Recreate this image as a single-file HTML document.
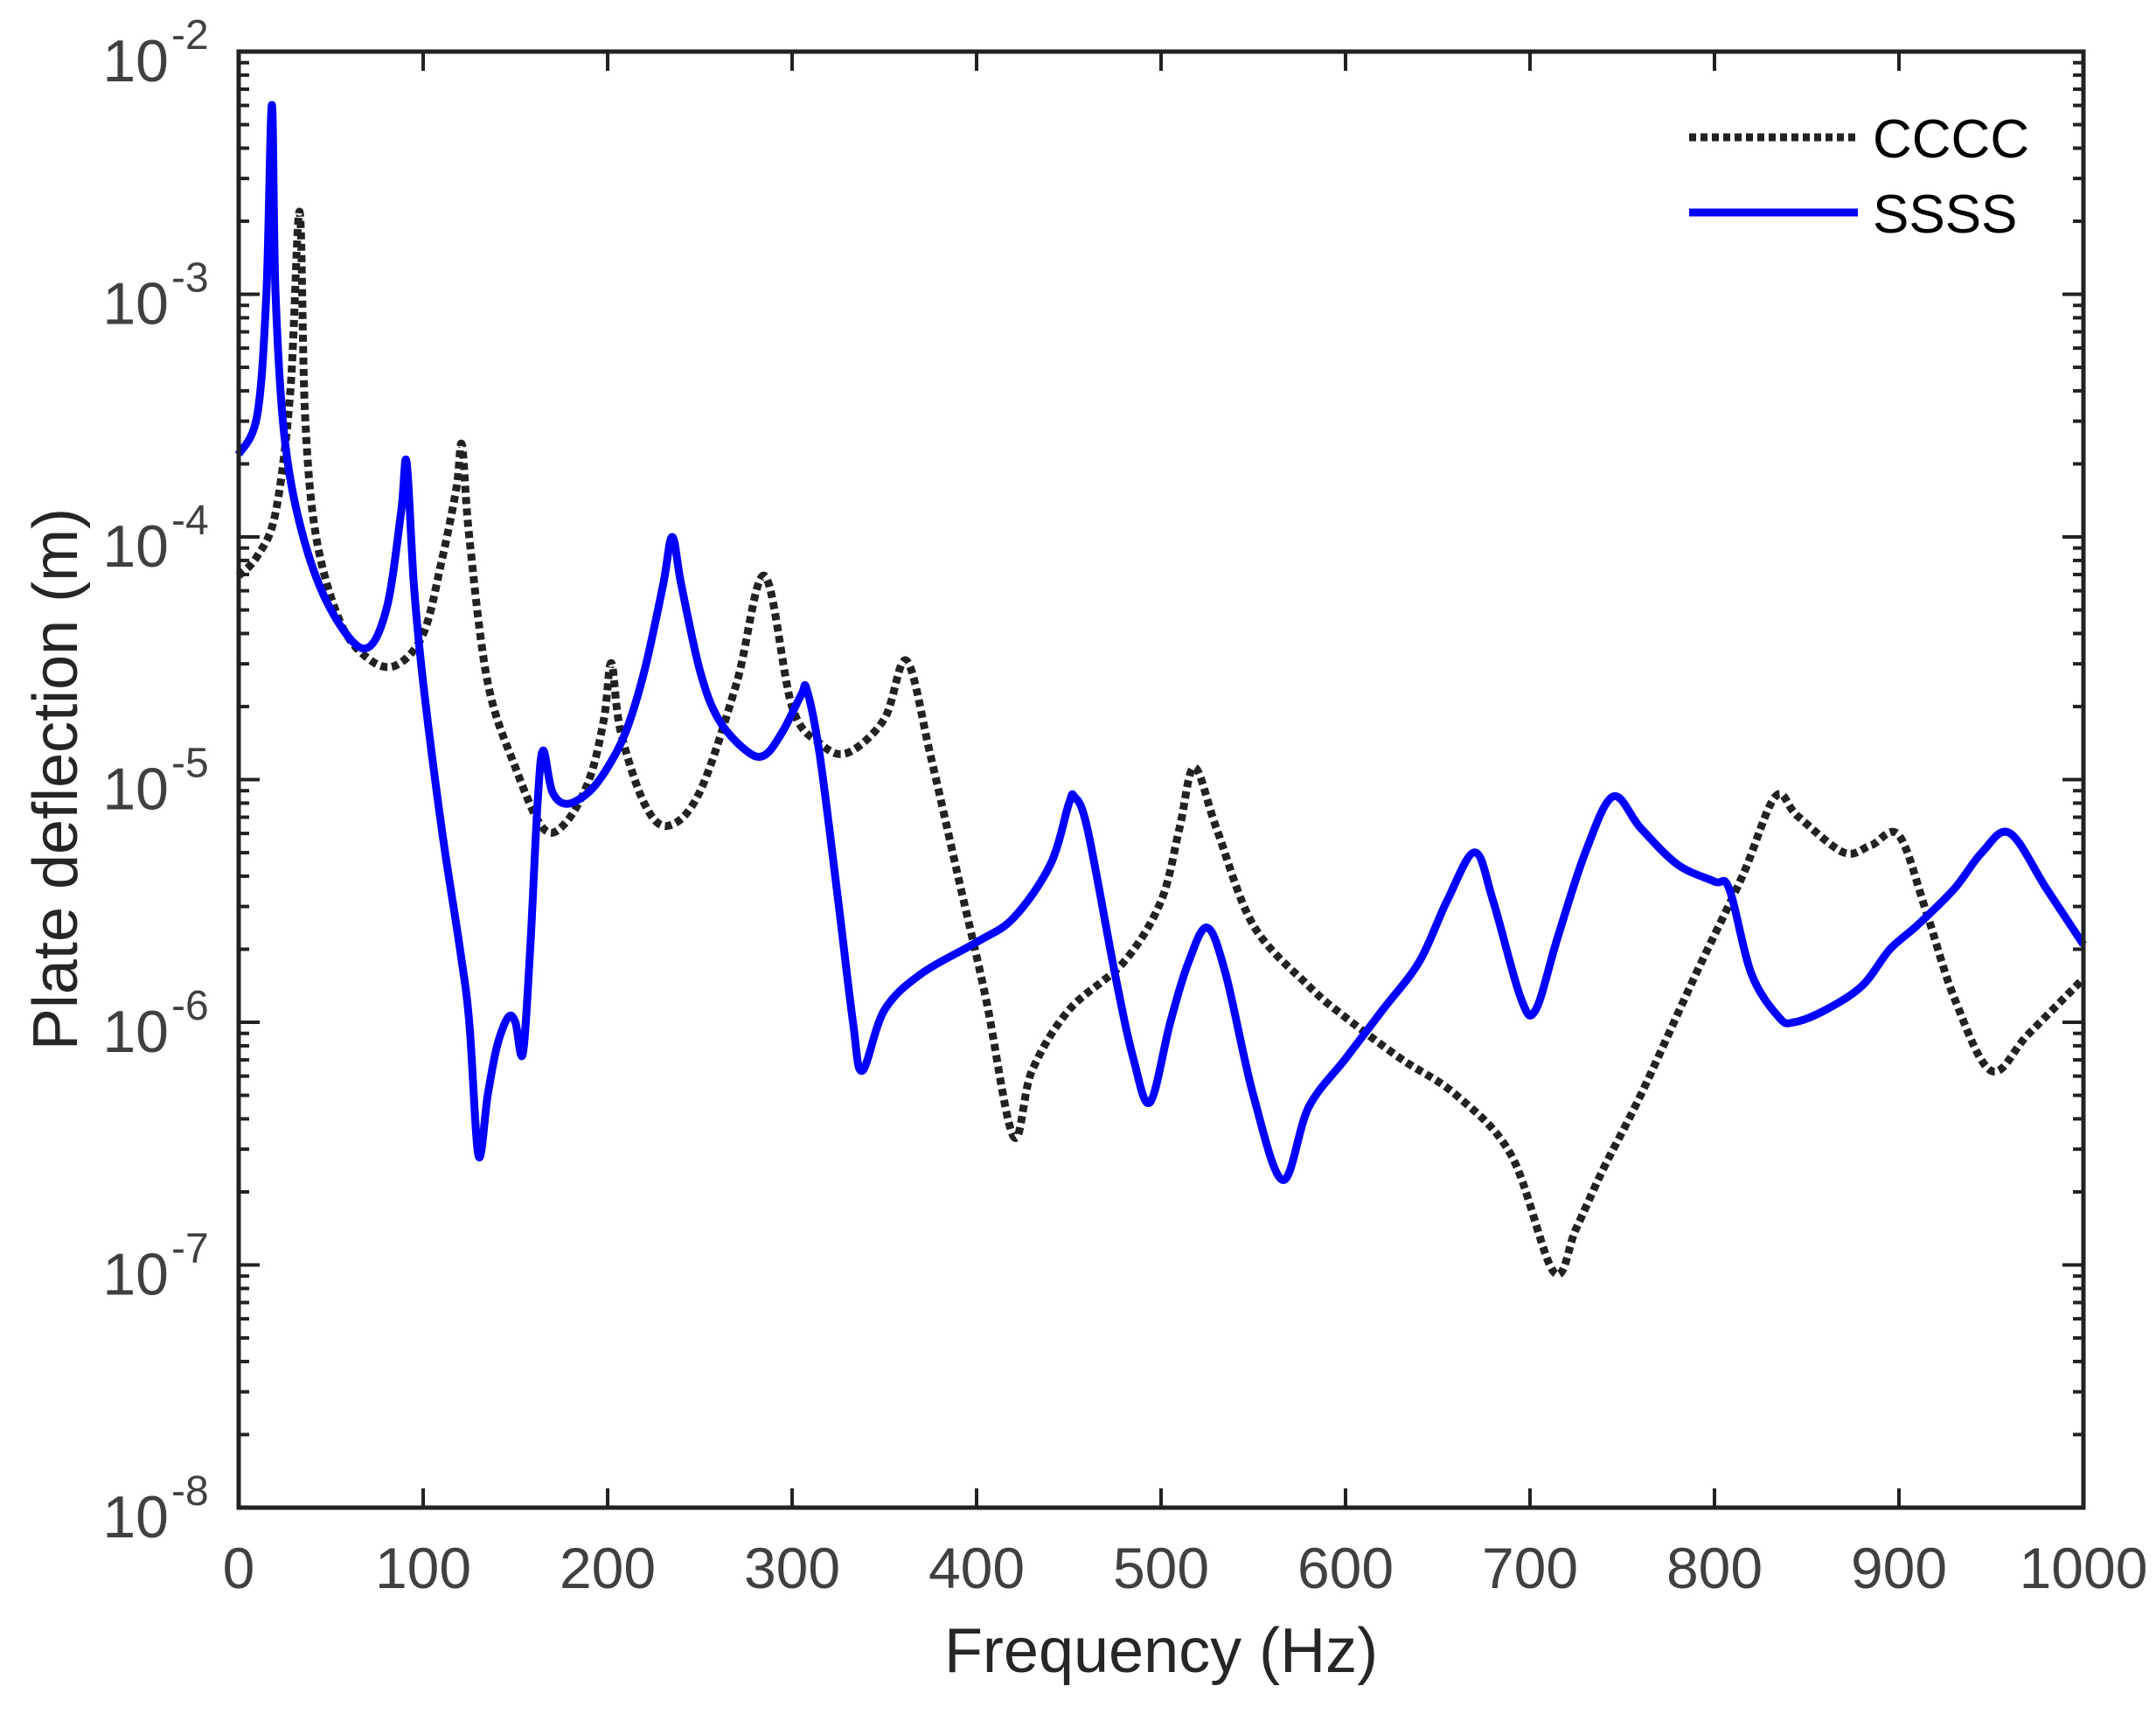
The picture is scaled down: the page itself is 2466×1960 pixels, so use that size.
<!DOCTYPE html>
<html><head><meta charset="utf-8"><style>
html,body{margin:0;padding:0;background:#fff;}
svg{display:block;font-family:"Liberation Sans",Arial,sans-serif;}
</style></head><body>
<svg id="chart" width="2466" height="1960" viewBox="0 0 2466 1960" xmlns="http://www.w3.org/2000/svg">
<g id="grid-layer"></g>
<g id="series-layer"></g>
<rect x="273" y="59" width="2110" height="1665" fill="none" stroke="#222" stroke-width="5"/>
<g id="label-layer"></g>
<text x="1328" y="1912" font-size="72" fill="#262626" text-anchor="middle">Frequency (Hz)</text>
<text transform="translate(88,891) rotate(-90)" font-size="72" fill="#262626" text-anchor="middle">Plate deflection (m)</text>
<g>
<line x1="1932" y1="157" x2="2125" y2="157" stroke="#222" stroke-width="9" stroke-dasharray="8 5"/>
<text x="2142" y="180" font-size="62" fill="#000">CCCC</text>
<line x1="1932" y1="243" x2="2125" y2="243" stroke="#0000ff" stroke-width="9"/>
<text x="2142" y="266" font-size="62" fill="#000">SSSS</text>
</g>
</svg>
<script>
const xTicks=[0,100,200,300,400,500,600,700,800,900,1000];
const yExps=[-2,-3,-4,-5,-6,-7,-8];
const ssssFreq=[0,10,15,18,20,25,35,50,68,80,88,91,95,100,110,120,125,130,135,140,146,150,154,158,162,165,170,178,190,200,210,220,230,235,240,250,260,275,285,295,305,308,315,325,333,338,350,370,400,420,440,450,453,460,475,485,494,505,515,525,535,550,566,580,600,620,640,655,670,680,695,703,715,730,745,760,780,800,808,820,835,843,860,880,895,910,930,945,960,980,1000];
const ssssLog=[-3.66,-3.5,-3.0,-2.22,-3.0,-3.6,-4.0,-4.3,-4.46,-4.3,-3.9,-3.69,-4.2,-4.6,-5.2,-5.7,-6.0,-6.55,-6.3,-6.1,-5.98,-6.0,-6.13,-5.7,-5.1,-4.88,-5.05,-5.1,-5.05,-4.95,-4.8,-4.55,-4.2,-4.0,-4.2,-4.55,-4.75,-4.88,-4.9,-4.8,-4.65,-4.63,-4.9,-5.5,-6.0,-6.2,-5.95,-5.8,-5.67,-5.57,-5.35,-5.1,-5.07,-5.2,-5.8,-6.15,-6.33,-6.0,-5.75,-5.61,-5.8,-6.3,-6.65,-6.35,-6.15,-5.95,-5.75,-5.5,-5.3,-5.5,-5.9,-5.95,-5.65,-5.3,-5.07,-5.2,-5.35,-5.42,-5.45,-5.8,-5.98,-6.0,-5.95,-5.85,-5.7,-5.6,-5.45,-5.3,-5.22,-5.45,-5.68];
const ccccFreq=[0,10,20,28,33,36,42,55,70,85,100,110,118,121,125,135,150,165,177,190,198,202,207,220,233,250,270,285,300,315,330,350,362,375,390,405,420,430,450,480,500,510,518,530,550,580,600,630,660,690,713,725,740,760,790,815,833,845,870,885,900,915,930,950,970,1000];
const ccccLog=[-4.16,-4.08,-3.9,-3.4,-2.66,-3.5,-4.0,-4.35,-4.5,-4.53,-4.4,-4.1,-3.8,-3.62,-4.0,-4.6,-4.95,-5.2,-5.18,-5.0,-4.75,-4.52,-4.8,-5.1,-5.19,-5.05,-4.6,-4.16,-4.7,-4.85,-4.89,-4.75,-4.51,-4.9,-5.4,-5.9,-6.47,-6.2,-5.95,-5.75,-5.5,-5.2,-4.95,-5.2,-5.6,-5.85,-5.98,-6.15,-6.3,-6.55,-7.03,-6.85,-6.6,-6.3,-5.8,-5.4,-5.07,-5.15,-5.3,-5.27,-5.23,-5.55,-5.9,-6.2,-6.05,-5.82];

const L=273,R=2383,T=59,B=1724;
const xs=f=>L+(f-0)/(1000-0)*(R-L);
const ys=lg=>T+(-2-lg)/6*(B-T);
const NS='http://www.w3.org/2000/svg';
function mk(tag,attrs,parent){const e=document.createElementNS(NS,tag);for(const k in attrs)e.setAttribute(k,attrs[k]);parent.appendChild(e);return e;}
const g=document.getElementById('grid-layer'),sl=document.getElementById('series-layer'),ll=document.getElementById('label-layer');
xTicks.forEach(v=>{const x=xs(v);
 let t=mk('line',{x1:x,y1:B,x2:x,y2:B-22,stroke:'#222','stroke-width':4},g);
 
 
 t=mk('line',{x1:x,y1:T,x2:x,y2:T+22,stroke:'#222','stroke-width':4},g);
 
 
 const tx=mk('text',{x:x,y:1816,'font-size':66,fill:'#404040','text-anchor':'middle'},ll);
 tx.textContent=v;
 
 
});
yExps.forEach(e=>{const y=ys(e);
 [[L,L+24],[R,R-24]].forEach(p=>{const t=mk('line',{x1:p[0],y1:y,x2:p[1],y2:y,stroke:'#222','stroke-width':4},g);
  
  });
 if(e>-8){for(let k=2;k<=9;k++){const yy=ys(e-1+Math.log10(k));
  [[L,L+12],[R,R-12]].forEach(p=>{const t=mk('line',{x1:p[0],y1:yy,x2:p[1],y2:yy,stroke:'#222','stroke-width':4},g);
   
   });}}
 const tx=mk('text',{x:193,y:y+34,'font-size':68,fill:'#404040','text-anchor':'end'},ll);
 tx.textContent='10';
 
 
 const ex=mk('text',{x:196,y:y-3,'font-size':48,fill:'#404040'},ll);
 ex.textContent='-'+(-e);
 
 
});
function pathD(fr,lg){
 const P=fr.map((f,i)=>[xs(f),ys(lg[i])]);
 let d='M'+P[0][0]+','+P[0][1];
 for(let i=0;i<P.length-1;i++){const p0=P[Math.max(0,i-1)],p1=P[i],p2=P[i+1],p3=P[Math.min(P.length-1,i+2)];
  const c1=[p1[0]+(p2[0]-p0[0])/6,p1[1]+(p2[1]-p0[1])/6],c2=[p2[0]-(p3[0]-p1[0])/6,p2[1]-(p3[1]-p1[1])/6];
  d+=' C'+c1[0]+','+c1[1]+' '+c2[0]+','+c2[1]+' '+p2[0]+','+p2[1];}
 return d;}
const c=mk('path',{d:pathD(ccccFreq,ccccLog),fill:'none',stroke:'#222','stroke-width':9,'stroke-dasharray':'8 5'},sl);


const s=mk('path',{d:pathD(ssssFreq,ssssLog),fill:'none',stroke:'#0000ff','stroke-width':9,'stroke-linejoin':'round'},sl);


</script>
</body></html>
